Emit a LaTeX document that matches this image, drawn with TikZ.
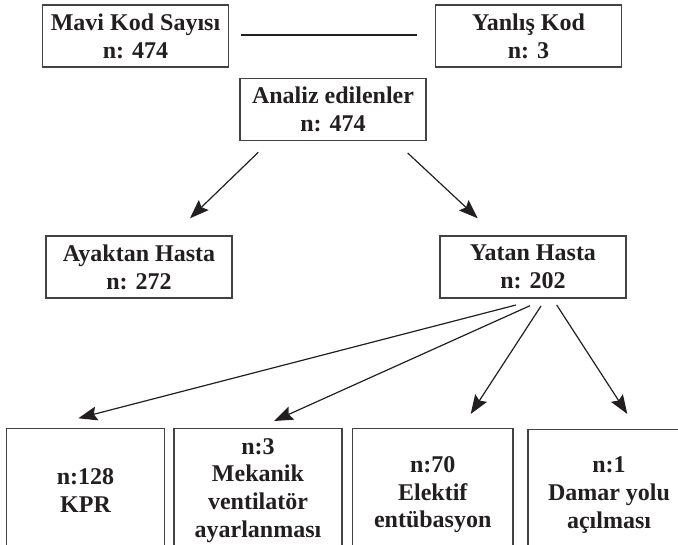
\documentclass[tikz,border=0pt]{standalone}
\usepackage{fontspec}
\setmainfont{Liberation Serif}
\usetikzlibrary{arrows.meta}
\definecolor{ink}{HTML}{231F20}
\begin{document}
\begin{tikzpicture}[x=1pt,y=-1pt,
  box/.style={draw=ink!85, line width=1.2pt, align=center, inner sep=0pt,
    font=\fontsize{24}{28.3}\selectfont\bfseries, text=ink},
  topbox/.style={box, minimum width=186pt, minimum height=62pt},
  botbox/.style={box, anchor=north, font=\fontsize{24}{27.6}\selectfont\bfseries},
  conn/.style={line width=1.2pt, draw=ink, -{Stealth[length=19pt,width=14pt,inset=3pt]}},
  sep/.style={line width=1.2pt, draw=ink}]
\useasboundingbox (0,0) rectangle (678,545);

% top row
\node[topbox] (mavi) at (135.5,36) {Mavi Kod Sayısı\\n: 474};
\node[topbox] (yanlis) at (528.5,36) {Yanlış Kod\\n: 3};
\coordinate (l1) at (241,35);
\coordinate (l2) at (417,35);
\draw[sep] (l1) -- (l2);

% middle
\node[topbox] (analiz) at (333,109.5) {Analiz edilenler\\n: 474};
\node[topbox] (ayaktan) at (139,267) {Ayaktan Hasta\\n: 272};
\node[topbox] (yatan) at (533,267) {Yatan Hasta\\n: 202};

% bottom row
\node[botbox, minimum width=158.5pt, minimum height=123.5pt] (kpr) at (85.5,428.3) {n:128\\KPR};
\node[botbox, minimum width=168pt, minimum height=123pt] (mek) at (258,428.3) {n:3\\Mekanik\\ventilatör\\ayarlanması};
\node[botbox, minimum width=160.5pt, minimum height=132pt] (elek) at (432.75,428.3) {n:70\\Elektif\\entübasyon};
\node[botbox, minimum width=162pt, minimum height=131pt] (damar) at (609,429) {n:1\\Damar yolu\\açılması};

% connector ends
\coordinate (a1) at (258.3,152.3);
\coordinate (b1) at (190,218.3);
\coordinate (a2) at (407.7,153);
\coordinate (b2) at (477.7,218.3);
\coordinate (c1) at (516,305);
\coordinate (d1) at (78.3,418.3);
\coordinate (c2) at (530,305.7);
\coordinate (d2) at (274,421);
\coordinate (c3) at (541,306);
\coordinate (d3) at (470.7,414);
\coordinate (c4) at (556.7,305);
\coordinate (d4) at (627.3,414);

\draw[conn] (a1) -- (b1);
\draw[conn] (a2) -- (b2);
\draw[conn] (c1) -- (d1);
\draw[conn] (c2) -- (d2);
\draw[conn] (c3) -- (d3);
\draw[conn] (c4) -- (d4);
\end{tikzpicture}
\end{document}
